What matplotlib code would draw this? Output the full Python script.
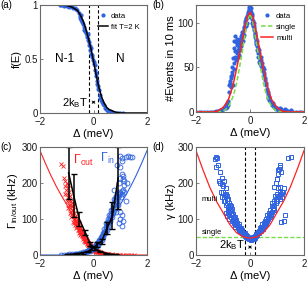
import numpy as np
import matplotlib
matplotlib.use('Agg')
import matplotlib.pyplot as plt

plt.rcParams['font.family'] = ['Liberation Sans', 'DejaVu Sans']
plt.rcParams['mathtext.fontset'] = 'custom'
plt.rcParams['mathtext.rm'] = 'Liberation Sans'
plt.rcParams['mathtext.it'] = 'Liberation Sans:italic'

# ---- panel (a): occupation probability
a_x = [-1.25,-1.2,-1.15,-1.1,-1.05,-1.0,-0.95,-0.9,-0.85,-0.8,-0.75,-0.7,-0.65,-0.6,
       -0.55,-0.52,-0.5,-0.48,-0.45,-0.42,-0.4,-0.37,-0.34,-0.31,-0.28,-0.26,-0.24,-0.22,
       -0.2,-0.18,-0.16,-0.14,-0.12,-0.1,-0.08,-0.06,-0.04,-0.02,0.0,0.02,0.04,0.06,0.08,
       0.1,0.12,0.14,0.16,0.18,0.2,0.23,0.26,0.29,0.32,0.35,0.38,0.42,0.46,0.5,0.55,0.6,
       0.65,0.7,0.8,0.9,1.0,1.1]
a_f = [1.0,1.0,1.0,0.99,1.0,0.99,0.99,0.98,0.99,0.98,0.97,0.97,0.96,0.95,
       0.93,0.90,0.88,0.91,0.86,0.84,0.82,0.80,0.77,0.76,0.74,0.72,0.70,0.73,
       0.68,0.66,0.63,0.62,0.58,0.60,0.55,0.52,0.54,0.49,0.47,0.45,0.44,0.40,0.37,
       0.34,0.30,0.27,0.25,0.22,0.21,0.17,0.14,0.12,0.10,0.08,0.07,0.05,0.04,0.03,0.02,0.02,
       0.01,0.01,0.0,0.0,0.0,0.0]
fit_x = [-2,-1.5,-1.2,-1.0,-0.8,-0.6,-0.5,-0.4,-0.3,-0.2,-0.1,0.0,0.1,0.2,0.3,0.4,0.5,0.6,0.8,1.0,1.2,1.5,2]
fit_f = [1,1,1,0.995,0.98,0.95,0.91,0.86,0.79,0.70,0.60,0.48,0.35,0.24,0.15,0.09,0.05,0.03,0.01,0.0,0,0,0]
kT_lines = [-0.17, 0.17]

# ---- panel (b): histogram of events
b_x = [-1.2,-1.1,-1.0,-0.95,-0.9,-0.85,-0.8,-0.78,-0.75,-0.72,-0.7,-0.68,-0.65,-0.62,-0.6,
       -0.58,-0.55,-0.53,-0.5,-0.48,-0.46,-0.44,-0.42,-0.40,-0.38,-0.36,-0.34,-0.32,-0.30,
       -0.28,-0.26,-0.24,-0.22,-0.20,-0.18,-0.16,-0.14,-0.12,-0.10,-0.08,-0.06,-0.04,-0.02,
       0.0,0.02,0.04,0.06,0.08,0.10,0.12,0.14,0.16,0.18,0.20,0.22,0.24,0.26,0.28,0.30,0.32,
       0.34,0.36,0.38,0.40,0.42,0.45,0.48,0.50,0.53,0.56,0.6,0.63,0.66,0.7,0.75,0.8,0.85,
       0.9,0.95,1.0,1.05,1.1,1.2,1.3,1.4,1.5]
b_n = [1,2,3,5,8,6,12,30,35,28,40,45,50,60,72,
       80,85,78,82,75,70,80,74,78,82,70,85,78,88,
       90,84,95,92,98,102,96,105,108,100,112,110,116,118,
       113,117,108,110,104,102,98,100,92,88,90,82,78,80,72,68,70,
       62,58,60,62,58,55,50,48,42,38,32,26,20,17,12,9,10,
       6,5,4,3,5,2,3,1,2]
b_x2 = [-0.9,-0.85,-0.82,-0.76,-0.73,-0.69,-0.66,-0.64,-0.61,-0.59,-0.57,-0.54,-0.52,-0.49,
        -0.47,-0.45,-0.43,-0.41,-0.39,-0.37,-0.35,-0.33,-0.31,-0.29,-0.27,-0.25,-0.23,-0.21,
        -0.19,-0.17,-0.15,-0.13,-0.11,-0.09,-0.07,-0.05,-0.03,-0.01,0.01,0.03,0.05,0.07,0.09,
        0.11,0.13,0.15,0.17,0.19,0.21,0.23,0.25,0.27,0.29,0.31,0.33,0.35,0.37,0.39,0.41,0.44,
        0.47,0.51,0.55,0.58,0.62,0.65,0.68,0.72,0.78,0.82,0.88,0.92,0.98,1.02,1.15,1.25,1.35,
        1.45,-1.05,-1.15,-1.3,-1.25]
b_n2 = [4,10,8,22,33,38,42,30,55,48,62,68,58,66,
        60,62,68,64,72,76,80,74,82,86,80,90,86,94,
        96,100,98,104,106,110,106,114,112,120,114,112,106,108,100,
        96,94,96,86,84,80,76,74,70,66,62,66,56,54,52,55,50,
        46,44,36,30,24,22,16,14,11,8,7,4,3,2,3,1,2,
        0,2,1,0,1]
b_zero_x = [-2,-1.9,-1.8,-1.7,-1.6,-1.5,-1.4,-1.35,1.55,1.6,1.7,1.8,1.9,2.0]
b_zero_n = [0,0,0,0,0,0,0,0,0,0,0,0,0,0]
single_x = [-2,-1.2,-1.0,-0.9,-0.8,-0.7,-0.6,-0.5,-0.4,-0.3,-0.2,-0.1,0,0.1,0.2,0.3,0.4,0.5,0.6,0.7,0.8,0.9,1.0,1.2,2]
single_n = [0,0,1,3,6,12,20,32,48,65,84,102,110,102,84,65,48,32,20,12,6,3,1,0,0]
multi_x = [-2,-1.4,-1.2,-1.0,-0.9,-0.8,-0.7,-0.6,-0.5,-0.4,-0.3,-0.2,-0.1,0,0.1,0.2,0.3,0.4,0.5,0.6,0.7,0.8,0.9,1.0,1.2,1.4,2]
multi_n = [0,0,1,5,9,14,23,34,48,63,79,94,107,112,107,94,79,63,48,34,23,14,9,5,1,0,0]

# ---- panel (c): tunnelling rates
out_x = [-1.2,-1.15,-1.08,-1.05,-1.02,-1.0,-0.98,-0.96,-0.95,-0.93,-0.92,-0.9,-0.88,-0.87,
         -0.85,-0.84,-0.82,-0.8,-0.79,-0.77,-0.75,-0.73,-0.72,-0.7,-0.68,-0.66,-0.65,-0.63,
         -0.61,-0.6,-0.58,-0.56,-0.55,-0.53,-0.51,-0.5,-0.48,-0.46,-0.45,-0.43,-0.41,-0.4,
         -0.38,-0.36,-0.34,-0.33,-0.31,-0.29,-0.27,-0.25,-0.23,-0.21,-0.2,-0.18,-0.16,-0.14,
         -0.12,-0.1,-0.08,-0.06,-0.04,-0.02,0.0,0.02,0.04,0.06,0.08,0.1,0.13,0.16,0.2,0.24,
         0.28,0.32,0.36,0.4,0.45,0.5,0.55,0.6,0.7,0.8,0.9,1.0,1.1,1.2,1.3,1.4,1.5]
out_g = [252,248,205,192,180,200,170,185,160,150,175,140,165,130,
         150,120,135,115,145,110,125,100,118,95,108,88,102,85,
         95,80,78,88,72,70,78,65,62,70,58,55,60,50,
         52,46,48,42,40,44,36,38,32,34,28,30,26,24,
         27,22,20,23,18,17,15,16,13,14,11,12,9,10,7,8,
         5,6,4,4,3,2,3,1,2,1,1,0,1,0,0,0,0]
out_x2 = [-1.1,-1.05,-1.0,-0.97,-0.95,-0.91,-0.89,-0.86,-0.83,-0.81,-0.78,-0.76,-0.74,-0.71,
          -0.69,-0.67,-0.64,-0.62,-0.59,-0.57,-0.54,-0.52,-0.49,-0.47,-0.44,-0.42,-0.39,-0.37,
          -0.35,-0.32,-0.3,-0.28,-0.26,-0.24,-0.22,-0.19,-0.17,-0.15,-0.13,-0.11,-0.09,-0.07,
          -0.05,-0.03,0.01,0.03,0.05,0.07,0.09,0.12,0.15,0.18,0.22,0.26,0.3,0.34,0.38,0.43,
          0.48,0.53,0.65,0.75,0.85,0.95]
out_g2 = [215,170,150,195,130,155,118,140,105,125,92,135,88,105,
          82,95,75,90,70,82,62,75,56,66,52,64,45,55,
          40,50,35,42,30,40,28,32,22,28,20,25,18,20,
          15,20,12,18,10,15,8,12,7,9,5,6,3,5,2,4,
          1,2,1,0,1,0]
in_x = [-1.2,-1.1,-1.0,-0.9,-0.8,-0.7,-0.6,-0.5,-0.4,-0.3,-0.25,-0.2,-0.15,-0.1,-0.05,0.0,
        0.03,0.06,0.09,0.12,0.15,0.18,0.2,0.22,0.25,0.28,0.3,0.33,0.35,0.38,0.4,0.42,0.45,
        0.47,0.5,0.52,0.55,0.57,0.6,0.62,0.65,0.67,0.7,0.72,0.75,0.78,0.8,0.82,0.85,0.88,
        0.9,0.95,1.0,1.05,1.1,0.92,0.98,1.0,1.05,0.95,1.0,1.05,1.1,1.15,1.0,1.05,1.2,1.35,
        1.45,0.88,0.75,0.85,1.1,1.2]
in_g = [0,1,1,2,2,3,4,5,7,9,11,12,14,16,18,20,
        22,25,24,28,30,33,36,38,42,45,48,52,55,60,62,68,72,
        78,82,88,92,98,102,108,112,118,125,130,138,142,150,155,160,165,
        170,175,172,178,180,140,120,100,110,200,215,225,210,205,245,270,272,272,
        271,250,180,120,95,150]
in_x2 = [-1.0,-0.85,-0.75,-0.65,-0.55,-0.45,-0.35,-0.28,-0.22,-0.18,-0.12,-0.08,-0.02,0.02,
         0.05,0.08,0.11,0.14,0.17,0.21,0.24,0.27,0.31,0.34,0.37,0.41,0.44,0.48,0.5,0.54,
         0.56,0.59,0.63,0.66,0.69,0.72,0.74,0.77,0.8,0.83,0.86,0.89,0.93,0.97,1.02,1.08,
         1.15,0.95,1.08,1.15,1.25,1.05,1.12,0.98,1.3]
in_g2 = [0,1,1,2,3,4,6,8,10,13,12,17,16,19,
         20,28,22,34,28,42,35,50,42,60,50,72,60,88,70,100,
         80,110,95,125,105,140,118,155,130,165,145,150,160,168,162,170,
         175,90,80,195,200,260,220,275,275]
line_in_x = [-2,-1,-0.6,-0.4,-0.2,0,0.2,0.4,0.6,0.8,1.0,1.2,1.4,1.6,1.8,2.0]
line_in_g = [0,0,1,3,10,24,45,66,88,112,140,165,192,222,255,290]
line_out_x = [-2.0,-1.8,-1.6,-1.4,-1.2,-1.0,-0.8,-0.6,-0.4,-0.2,0,0.2,0.4,0.6,1,2]
line_out_g = [290,255,222,192,165,140,112,88,66,45,24,10,3,1,0,0]
eb_in_x = [-1.0,-0.8,-0.6,-0.4,-0.2,-0.05,0.12,0.3,0.51,0.71,0.92]
eb_in_g = [1,2,4,6,10,18,28,38,75,109,214]
eb_in_e = [1,1,1,2,2,3,7,7,17,38,86]
eb_out_x = [-0.93,-0.74,-0.53,-0.31,-0.12,0.05,0.25,0.45,0.65,0.85]
eb_out_g = [228,165,100,63,30,18,10,5,2,1]
eb_out_e = [72,60,20,7,5,3,2,1,1,1]

# ---- panel (d): total rate
d_x = [-1.3,-1.27,-1.22,-1.18,-1.27,-1.15,-1.1,-1.05,-1.0,-0.95,-0.9,-1.08,-1.02,-0.98,
       -0.94,-0.9,-0.86,-0.82,-0.78,-0.74,-0.7,-0.88,-0.84,-0.8,-0.76,-0.72,-0.68,-0.64,
       -0.6,-0.56,-0.52,-0.5,-0.55,-0.48,-0.45,-0.42,-0.4,-0.37,-0.34,-0.31,-0.28,-0.25,
       -0.22,-0.2,-0.17,-0.14,-0.1,-0.06,-0.03,0.0,0.03,0.06,0.09,0.12,0.15,0.18,0.21,
       0.24,0.27,0.3,0.33,0.36,0.39,0.42,0.45,0.48,0.5,0.53,0.56,0.6,0.63,0.66,0.7,0.73,
       0.76,0.8,0.84,0.88,0.9,0.95,1.0,1.05,1.1,1.15,1.2,1.25,0.9,0.95,1.0,1.05,1.1,
       1.15,1.42,1.5,0.55,0.7]
d_g = [268,272,270,250,245,205,200,198,193,206,185,175,160,150,
       168,140,155,132,145,125,135,118,108,120,100,112,95,105,
       88,98,82,90,78,85,75,70,80,68,72,62,66,58,
       60,55,52,50,48,46,45,47,44,46,48,45,50,52,55,
       58,56,62,60,66,70,68,75,72,80,85,82,90,95,100,110,105,
       115,120,128,135,125,145,150,160,155,170,175,185,190,200,210,235,245,
       230,270,272,92,108]
d_x2 = [-1.1,-1.05,-1.0,-0.97,-0.93,-0.9,-0.87,-0.85,-0.83,-0.8,-0.78,-0.76,-0.74,-0.72,
        -0.7,-0.68,-0.66,-0.64,-0.62,-0.6,-0.58,-0.56,-0.54,-0.52,-0.5,-0.47,-0.44,-0.41,
        -0.38,-0.35,-0.32,-0.29,-0.26,-0.23,-0.2,-0.16,-0.12,-0.08,-0.04,0.05,0.1,0.14,0.18,
        0.22,0.26,0.3,0.34,0.37,0.4,0.43,0.46,0.5,0.54,0.58,0.61,0.64,0.67,0.7,0.73,0.76,
        0.8,0.83,0.86,0.9,0.93,0.96,1.0,1.03,1.06,1.1,1.12,1.18,1.22,1.0,1.05,1.08,1.12,
        1.3,1.25,1.15]
d_g2 = [230,215,175,160,150,170,145,165,125,155,130,115,140,122,
        105,128,110,98,115,102,92,105,88,96,82,88,78,85,
        72,76,65,70,62,58,60,55,52,50,48,42,50,44,48,
        52,60,64,68,74,78,72,85,90,95,88,100,110,102,118,125,112,
        135,145,130,150,165,155,170,185,165,190,175,160,175,210,225,240,250,
        110,95,92]
d_line_x = [-2,-1.75,-1.5,-1.25,-1.0,-0.75,-0.5,-0.25,0,0.25,0.5,0.75,1.0,1.25,1.5,1.75,2]
d_line_g = [290,238,190,150,118,85,62,50,47,50,62,85,118,150,190,238,290]
single_rate = 50

blue = '#2f63e0'
red = '#ff2222'
green = '#77dd44'
gray = '#6a6a6a'


def style(ax):
    for s in ax.spines.values():
        s.set_color(gray)
        s.set_linewidth(0.8)
    ax.tick_params(direction='in', length=2, width=0.6, color=gray,
                   labelcolor='#1a1a1a', labelsize=7, pad=1.5)
    ax.tick_params(axis='x', pad=3)
    ax.set_xlim(-2, 2)
    ax.set_xticks([-2, 0, 2])
    ax.set_xlabel('\u0394 (meV)', fontsize=8, labelpad=1)


fig = plt.figure(figsize=(3.08, 2.83), dpi=100)
W, H = 308.0, 283.0
ax_a = fig.add_axes([40/W, 1-113/H, 107/W, 108/H])
ax_b = fig.add_axes([196/W, 1-112/H, 108/W, 107/H])
ax_c = fig.add_axes([40/W, 1-255/H, 107/W, 108/H])
ax_d = fig.add_axes([196/W, 1-255/H, 108/W, 108/H])

# (a)
ax = ax_a
style(ax)
for xv in kT_lines:
    ax.axvline(xv, color='k', ls='--', lw=0.8, dashes=(3, 2))
ax.plot(a_x, a_f, '.', color=blue, ms=4, label='data')
ax.plot(fit_x, fit_f, '-', color='k', lw=1.1, label='fit T=2 K')
ax.set_ylim(0, 1)
ax.set_yticks([0, 0.5, 1])
ax.set_yticklabels(['0', '0.5', '1'])
ax.set_ylabel('f(E)', fontsize=8, labelpad=2)
ax.text(-1.07, 0.5, 'N-1', fontsize=8.5, ha='center', va='center')
ax.text(1.0, 0.5, 'N', fontsize=8.5, ha='center', va='center')
ax.text(-0.2, 0.09, '2k$_\\mathrm{B}$T', fontsize=8, ha='right', va='center')
ax.annotate('', xy=(-0.17, 0.1), xytext=(0.17, 0.1),
            arrowprops=dict(arrowstyle='<->', lw=0.6, color='k', mutation_scale=4))
ax.legend(loc='upper right', fontsize=5.5, frameon=False, handlelength=1.2,
          handletextpad=0.4, borderaxespad=0.6, labelspacing=0.45, markerscale=1)
ax.text(-0.37, 1.0, '(a)', transform=ax.transAxes, fontsize=7, va='center', ha='left')

# (b)
ax = ax_b
style(ax)
ax.plot(b_x + b_x2 + b_zero_x, b_n + b_n2 + b_zero_n, '.', color=blue, ms=4,
        label='data', zorder=2)
ax.plot(single_x, single_n, '--', color=green, lw=1.1, dashes=(3, 1.5), label='single', zorder=3)
ax.plot(multi_x, multi_n, '-', color=red, lw=1.1, label='multi', zorder=3)
ax.set_ylim(0, 120)
ax.set_yticks([0, 50, 100])
ax.set_ylabel('#Events in 10 ms', fontsize=8, labelpad=1)
ax.legend(loc='upper right', fontsize=5.5, frameon=False, handlelength=1.6,
          handletextpad=0.4, borderaxespad=0.6, labelspacing=0.45)
ax.text(-0.4, 1.0, '(b)', transform=ax.transAxes, fontsize=7, va='center', ha='left')

# (c)
ax = ax_c
style(ax)
ax.plot(line_out_x, line_out_g, '-', color=red, lw=0.8)
ax.plot(line_in_x, line_in_g, '-', color=blue, lw=0.8)
ax.plot(out_x + out_x2, out_g + out_g2, 'x', color=red, ms=3, mew=0.6)
ax.plot(in_x + in_x2, in_g + in_g2, 'o', color=blue, ms=3.5, mfc='none', mew=0.6)
ax.errorbar(eb_out_x, eb_out_g, yerr=eb_out_e, color='k', lw=1.1, capsize=2, capthick=1.0)
ax.errorbar(eb_in_x, eb_in_g, yerr=eb_in_e, color='k', lw=1.1, capsize=2, capthick=1.0)
ax.set_ylim(0, 300)
ax.set_yticks([0, 100, 200, 300])
ax.set_ylabel('\u0393$_\\mathrm{in/out}$ (kHz)', fontsize=8, labelpad=1)
ax.text(-0.75, 262, '\u0393$_\\mathrm{out}$', color=red, fontsize=9, ha='left', va='center')
ax.text(0.25, 268, '\u0393$_\\mathrm{in}$', color=blue, fontsize=9, ha='left', va='center')
ax.text(-0.37, 1.0, '(c)', transform=ax.transAxes, fontsize=7, va='center', ha='left')

# (d)
ax = ax_d
style(ax)
ax.axhline(single_rate, color=green, ls='--', lw=1.0, dashes=(3, 1.5))
for xv in kT_lines:
    ax.axvline(xv, color='k', ls='--', lw=0.8, dashes=(3, 2))
ax.plot(d_x + d_x2, d_g + d_g2, 's', color=blue, ms=3.5, mfc='none', mew=0.7)
ax.plot(d_line_x, d_line_g, '-', color=red, lw=0.9)
ax.set_ylim(0, 300)
ax.set_yticks([0, 100, 200, 300])
ax.set_ylabel('\u03b3 (kHz)', fontsize=8, labelpad=1)
ax.text(-1.8, 155, 'multi', fontsize=5.5, ha='left', va='center')
ax.text(-1.8, 63, 'single', fontsize=5.5, ha='left', va='center')
ax.text(-0.2, 27, '2k$_\\mathrm{B}$T', fontsize=8, ha='right', va='center')
ax.annotate('', xy=(-0.17, 22), xytext=(0.17, 22),
            arrowprops=dict(arrowstyle='<->', lw=0.6, color='k', mutation_scale=4))
ax.text(-0.4, 1.0, '(d)', transform=ax.transAxes, fontsize=7, va='center', ha='left')

fig.savefig('out.png', dpi=100)
